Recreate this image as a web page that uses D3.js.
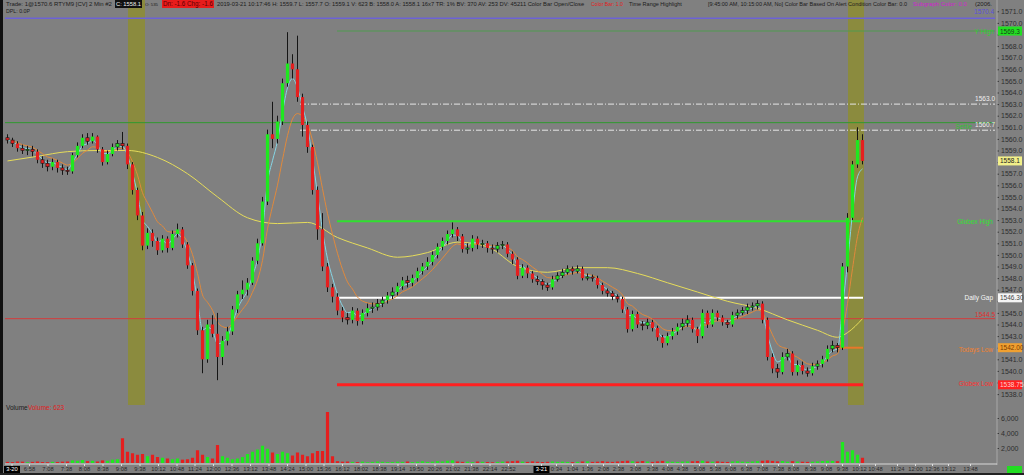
<!DOCTYPE html>
<html><head><meta charset="utf-8">
<script src="https://cdn.jsdelivr.net/npm/d3@7"></script>
<style>
html,body{margin:0;padding:0;background:#808080;overflow:hidden}
svg{display:block}
text{font-family:"Liberation Sans",Arial,sans-serif}
</style>
</head><body>
<svg id="c" width="1024" height="475"></svg>
<script>
// ---------------- DATA ----------------
const opens=[1560.1,1559.9,1559.6,1559.2,1559.0,1559.1,1558.9,1558.2,1557.9,1557.6,
1558.0,1557.5,1557.3,1557.2,1558.6,1559.4,1560.1,1559.8,1560.2,1559.1,
1558.0,1558.7,1559.3,1559.6,1559.4,1557.8,1555.6,1553.4,1550.8,1551.9,
1551.2,1550.4,1551.4,1550.6,1551.8,1552.2,1550.9,1549.1,1546.9,1543.5,
1541.0,1544.0,1543.2,1541.2,1542.6,1543.4,1545.3,1546.6,1547.0,1547.6,
1549.5,1551.0,1554.6,1560.4,1560.0,1561.5,1564.8,1566.5,1566.0,1563.6,
1561.2,1559.3,1555.6,1552.2,1549.0,1547.2,1546.4,1545.2,1544.6,1544.4,
1545.2,1544.3,1545.0,1545.4,1545.5,1545.8,1546.1,1546.5,1546.8,1547.3,
1547.8,1547.6,1548.0,1548.6,1549.0,1549.4,1550.0,1550.7,1551.2,1551.8,
1552.2,1551.6,1550.5,1550.6,1551.4,1550.9,1551.0,1550.6,1550.5,1550.8,
1550.9,1550.1,1549.6,1548.2,1548.9,1548.4,1547.9,1547.7,1547.4,1547.2,
1547.9,1548.2,1548.5,1548.8,1548.6,1548.8,1548.0,1548.1,1548.0,1547.4,
1546.9,1546.7,1546.4,1546.2,1545.3,1543.6,1544.9,1544.0,1543.9,1544.2,
1543.7,1542.9,1542.4,1543.0,1543.4,1543.8,1544.1,1544.4,1543.6,1543.0,
1545.0,1544.0,1545.0,1544.6,1544.2,1544.0,1544.8,1545.0,1545.2,1545.5,
1545.6,1545.8,1544.4,1541.2,1540.2,1539.9,1541.2,1541.5,1539.9,1540.5,
1540.0,1539.8,1540.4,1540.6,1541.0,1541.9,1542.2,1542.0,1549.0,1553.2,
1557.8,1559.9];
const closes=[1559.9,1559.6,1559.2,1559.0,1559.1,1558.9,1558.2,1557.9,1557.6,1558.0,
1557.5,1557.3,1557.2,1558.6,1559.4,1560.1,1559.8,1560.2,1559.1,1558.0,
1558.7,1559.3,1559.6,1559.4,1557.8,1555.6,1553.4,1550.8,1551.9,1551.2,
1550.4,1551.4,1550.6,1551.8,1552.2,1550.9,1549.1,1546.9,1543.5,1541.0,
1544.0,1543.2,1541.2,1542.6,1543.4,1545.3,1546.6,1547.0,1547.6,1549.5,
1551.0,1554.6,1560.4,1560.0,1561.5,1564.8,1566.5,1566.0,1563.6,1561.2,
1559.3,1555.6,1552.2,1549.0,1547.2,1546.4,1545.2,1544.6,1544.4,1545.2,
1544.3,1545.0,1545.4,1545.5,1545.8,1546.1,1546.5,1546.8,1547.3,1547.8,
1547.6,1548.0,1548.6,1549.0,1549.4,1550.0,1550.7,1551.2,1551.8,1552.2,
1551.6,1550.5,1550.6,1551.4,1550.9,1551.0,1550.6,1550.5,1550.8,1550.9,
1550.1,1549.6,1548.2,1548.9,1548.4,1547.9,1547.7,1547.4,1547.2,1547.9,
1548.2,1548.5,1548.8,1548.6,1548.8,1548.0,1548.1,1548.0,1547.4,1546.9,
1546.7,1546.4,1546.2,1545.3,1543.6,1544.9,1544.0,1543.9,1544.2,1543.7,
1542.9,1542.4,1543.0,1543.4,1543.8,1544.1,1544.4,1543.6,1543.0,1545.0,
1544.0,1545.0,1544.6,1544.2,1544.0,1544.8,1545.0,1545.2,1545.5,1545.6,
1545.8,1544.4,1541.2,1540.2,1539.9,1541.2,1541.5,1539.9,1540.5,1540.0,
1539.8,1540.4,1540.6,1541.0,1541.9,1542.2,1542.0,1549.0,1553.2,1557.8,
1559.9,1558.1];
const highs=[1560.4,1560.1,1559.8,1559.5,1559.4,1559.4,1559.1,1558.5,1558.2,1558.3,
1558.2,1557.8,1557.6,1558.8,1559.7,1560.4,1560.5,1560.5,1560.3,1559.3,
1559.0,1559.6,1559.9,1560.6,1559.6,1558.0,1555.8,1553.7,1552.3,1552.2,
1551.5,1551.7,1551.6,1552.1,1552.7,1552.4,1551.1,1549.3,1547.1,1543.8,
1544.4,1544.8,1545.0,1543.0,1543.8,1545.6,1546.9,1547.8,1548.0,1549.8,
1551.4,1555.0,1560.8,1563.2,1562.0,1565.2,1569.2,1567.3,1568.9,1563.9,
1561.5,1559.5,1555.9,1553.6,1549.3,1547.5,1546.7,1545.5,1545.0,1545.5,
1545.4,1545.3,1545.8,1545.9,1546.2,1546.4,1546.8,1547.2,1547.6,1548.1,
1548.2,1548.3,1548.9,1549.3,1549.8,1550.3,1551.0,1551.5,1552.1,1552.8,
1552.4,1551.8,1551.0,1551.7,1551.6,1551.3,1551.2,1550.9,1551.1,1551.2,
1551.1,1550.3,1549.8,1549.2,1549.1,1548.6,1548.2,1547.9,1547.6,1548.2,
1548.5,1548.8,1549.1,1549.0,1549.1,1549.0,1548.4,1548.3,1548.2,1547.6,
1547.1,1546.9,1546.6,1546.4,1545.5,1545.2,1545.1,1544.3,1544.5,1544.4,
1543.9,1543.1,1543.3,1543.7,1544.1,1544.5,1544.8,1544.6,1543.8,1545.3,
1545.2,1545.3,1545.2,1544.8,1544.4,1545.1,1545.3,1545.5,1545.8,1545.9,
1546.1,1546.0,1544.6,1541.5,1540.6,1541.6,1541.9,1541.7,1540.9,1540.8,
1540.3,1540.7,1540.9,1541.3,1542.2,1542.6,1542.4,1549.3,1553.6,1558.1,
1561.0,1560.4];
const lows=[1559.6,1559.3,1558.9,1558.7,1558.6,1558.5,1557.9,1557.5,1557.2,1557.3,
1557.1,1556.9,1556.9,1557.0,1558.4,1559.2,1559.5,1559.6,1558.8,1557.7,
1557.8,1558.5,1559.0,1559.1,1557.4,1555.2,1553.0,1550.4,1550.5,1550.7,
1550.0,1550.2,1550.2,1550.4,1551.5,1550.6,1548.8,1546.5,1543.1,1539.8,
1540.7,1542.9,1539.2,1540.5,1542.2,1543.1,1545.0,1546.2,1546.5,1547.4,
1549.2,1550.8,1554.3,1559.2,1559.6,1561.2,1564.5,1565.2,1563.2,1560.2,
1558.8,1555.2,1551.3,1548.6,1546.8,1545.9,1544.8,1544.2,1544.0,1544.1,
1543.9,1544.0,1544.7,1545.0,1545.2,1545.5,1545.8,1546.2,1546.5,1547.0,
1547.2,1547.3,1547.7,1548.3,1548.7,1549.1,1549.7,1550.4,1550.9,1551.5,
1551.2,1550.2,1550.1,1550.3,1550.5,1550.6,1550.2,1550.1,1550.2,1550.5,
1549.8,1549.2,1547.9,1548.0,1548.0,1547.6,1547.4,1547.0,1546.9,1547.0,
1547.7,1548.0,1548.3,1548.3,1548.4,1547.8,1547.8,1547.7,1547.1,1546.6,
1546.4,1546.1,1545.9,1545.0,1543.3,1543.4,1543.7,1543.5,1543.6,1543.4,
1542.6,1542.0,1542.2,1542.7,1543.1,1543.5,1543.8,1543.3,1542.4,1542.8,
1543.7,1543.8,1544.3,1543.9,1543.7,1543.8,1544.5,1544.8,1544.9,1545.2,
1545.3,1544.1,1540.9,1539.8,1539.4,1539.7,1540.9,1539.6,1539.6,1539.7,
1539.5,1539.6,1540.1,1540.3,1540.8,1541.6,1541.6,1541.8,1548.5,1553.0,
1557.5,1557.8];
const volumes=[150,120,200,180,100,150,200,130,110,160,
140,180,200,350,300,400,250,300,200,350,
300,450,500,3300,1500,1300,1100,1200,900,1100,
800,700,600,500,600,450,500,700,1700,1100,
800,600,2400,900,700,500,600,800,1200,1500,
1800,2300,1900,1400,1200,1500,1300,1000,1400,1100,
900,1300,1600,1600,6800,900,250,180,200,150,
120,180,100,150,200,160,120,140,180,150,
200,130,170,220,150,180,250,200,300,350,
200,150,180,120,200,160,140,100,150,180,
200,250,300,180,150,220,170,130,160,200,
150,180,140,120,160,200,220,150,180,240,
170,150,200,250,300,220,180,260,200,150,
220,280,200,170,150,190,210,230,260,300,
200,180,220,160,140,200,240,180,160,200,
250,300,350,280,220,260,180,240,200,170,
150,180,220,260,300,280,240,2800,1500,1700,
1100,700];
// slow moving average (yellow) at bar indices
const slowIdx=[0,6,12,18,24,30,36,42,48,54,60,66,72,78,84,90,96,102,108,114,120,126,132,138,144,150,156,162,166,168,171];
const slowVal=[1558.1,1558.5,1558.9,1559.0,1559.0,1558.4,1557.0,1555.0,1553.2,1552.7,1552.8,1551.5,1550.6,1549.8,1550.2,1551.1,1550.7,1549.0,1548.5,1548.9,1548.9,1548.4,1547.6,1546.8,1546.0,1545.4,1544.4,1543.5,1542.9,1543.3,1544.5];
// time axis (bar-index positions and labels)
const tickLabels=["3-20","6:58","7:08","7:38","8:08","8:38","9:08","9:38","10:12","10:48","11:24","12:00","12:36","13:12","13:48","14:24","15:00","15:36","16:12","18:02","18:38","19:14","19:50","20:26","21:02","21:38","22:14","22:52",
"3-21","0:34","1:04","1:36","2:08","2:38","3:08","3:38","4:08","4:38","5:08","5:38","6:08","6:38","7:08","7:38","8:08","8:38","9:08","9:38","10:12","10:48","11:24","12:00","12:36","13:12","13:48"];
const tickIdx=[1.3,4.8,8.5,12.2,15.8,19.5,23.2,26.9,30.6,34.3,37.9,41.6,45.3,49.0,52.7,56.4,60.1,63.7,67.4,71.1,74.8,78.5,82.2,85.9,89.5,93.2,96.9,100.6,
107.2,110.2,113.4,116.4,119.6,122.6,126.0,129.4,132.4,135.4,138.8,142.0,145.0,148.2,151.4,154.6,157.6,161.0,164.2,167.4,170.8,174.0,178.4,182.0,185.4,188.6,193.0];
const dateLabels=["3-20","3-21"];
const priceTicks=[1538,1539,1540,1541,1542,1543,1544,1545,1546,1547,1548,1549,1550,1551,1552,1553,1554,1555,1556,1557,1558,1559,1560,1561,1562,1563,1564,1565,1566,1567,1568,1569,1570,1571];
const volTicks=[2000,4000,6000];
// highlighted time ranges (9:45-10:15), bar-index units
const bandStart=[24.6,168.6];
const bandEnd=[28.0,171.8];
// horizontal levels
const levelKeys=["purple","yhigh","pivot","settle","prevclose","globexHigh","dailyGap","redLine","todaysLow","globexLow"];
const levelValues=[1570.4,1569.3,1563.0,1561.4,1560.75,1552.9,1546.3,1544.5,1542.0,1538.8];
const levelStart=[0,66.4,59,0,59,66.4,66.4,0,166,66.4];
const levelEnd=[198,198,198,198,198,171.6,171.6,198,171.6,171.6];
// value boxes on the price scale
const boxValues=[1569.3,1558.1,1546.3,1542.0,1538.8];
const boxTexts=["1569.3","1558.1","1546.30","1542.00","1538.75"];

// ---------------- STYLES ----------------
const levelStyle={
  purple:{c:"#6c62d6",w:1.5,d:null},
  yhigh:{c:"#4f9a4f",w:1,d:null},
  pivot:{c:"#e6e6e6",w:1,d:"6,2,1,2"},
  settle:{c:"#2f9a2f",w:1,d:null},
  prevclose:{c:"#e6e6e6",w:1,d:"6,2,1,2"},
  globexHigh:{c:"#2fe02f",w:2.2,d:null},
  dailyGap:{c:"#ffffff",w:2,d:null},
  redLine:{c:"#d63a3a",w:1,d:null},
  todaysLow:{c:"#e8772a",w:2,d:null},
  globexLow:{c:"#ff2020",w:3,d:null}
};
const boxStyle=[{f:"#22e022",t:"#1a3a1a"},{f:"#f2f08a",t:"#222"},{f:"#f5f5f5",t:"#444"},{f:"#f0a030",t:"#7a3a00"},{f:"#ff2020",t:"#ffd0d0"}];
const UP="#1fe81f", DN="#e51f1f";

// ---------------- CHART ----------------
const svg=d3.select("#c");
const x=d3.scaleLinear().domain([0,198]).range([5,995]);
const y=d3.scaleLinear().domain([1538,1571]).range([394.1,11.3]);
const yv=d3.scaleLinear().domain([0,6000]).range([463,418]);
const n=closes.length;

svg.append("rect").attr("width",1024).attr("height",475).attr("fill","#808080");

// time range highlight bands
svg.append("g").selectAll("rect").data(bandStart).join("rect")
  .attr("x",(d)=>x(d)).attr("width",(d,i)=>x(bandEnd[i])-x(d))
  .attr("y",0).attr("height",405).attr("fill","#8b8b3e");

// level lines
svg.append("g").selectAll("line").data(levelValues).join("line")
  .attr("x1",(d,i)=>x(levelStart[i])).attr("x2",(d,i)=>x(levelEnd[i]))
  .attr("y1",d=>y(d)).attr("y2",d=>y(d))
  .attr("stroke",(d,i)=>levelStyle[levelKeys[i]].c)
  .attr("stroke-width",(d,i)=>levelStyle[levelKeys[i]].w)
  .attr("stroke-dasharray",(d,i)=>levelStyle[levelKeys[i]].d);

// moving averages
function ema(arr,p){const a=2/(p+1);let e=arr[0];return arr.map(v=>(e=e+a*(v-e)));}
const fast=ema(closes,3), mid=ema(closes,7);
const lineGen=d3.line().x(d=>x(d[0]+0.5)).y(d=>y(d[1])).curve(d3.curveMonotoneX);
svg.append("path").attr("d",lineGen(slowIdx.map((d,i)=>[d,slowVal[i]])))
  .attr("fill","none").attr("stroke","#e6dc5a").attr("stroke-width",1);
svg.append("path").attr("d",lineGen(mid.map((v,i)=>[i,v])))
  .attr("fill","none").attr("stroke","#e0893c").attr("stroke-width",1);
svg.append("path").attr("d",lineGen(fast.map((v,i)=>[i,v])))
  .attr("fill","none").attr("stroke","#86d6e6").attr("stroke-width",1);

// candles
const idx=d3.range(n);
const cg=svg.append("g");
cg.selectAll("line").data(idx).join("line")
  .attr("x1",i=>x(i+0.5)).attr("x2",i=>x(i+0.5))
  .attr("y1",i=>y(highs[i])).attr("y2",i=>y(lows[i]))
  .attr("stroke","#151515").attr("stroke-width",1);
cg.selectAll("rect").data(idx).join("rect")
  .attr("x",i=>x(i+0.5)-1.6).attr("width",3.2)
  .attr("y",i=>y(Math.max(opens[i],closes[i])))
  .attr("height",i=>Math.max(1.2,Math.abs(y(opens[i])-y(closes[i]))))
  .attr("fill",i=>closes[i]>=opens[i]?UP:DN)
  .attr("stroke",i=>Math.abs(closes[i]-opens[i])<0.35?"#151515":"none")
  .attr("stroke-width",0.6);

// volume
svg.append("g").selectAll("rect").data(idx).join("rect")
  .attr("x",i=>x(i+0.5)-1.6).attr("width",3.2)
  .attr("y",i=>yv(volumes[i])).attr("height",i=>yv(0)-yv(volumes[i]))
  .attr("fill",i=>closes[i]>=opens[i]?UP:DN);

// right price axis
const ax=svg.append("g").attr("transform","translate(997,0)")
  .call(d3.axisRight(y).tickValues(priceTicks).tickFormat(d3.format(".1f")).tickSize(2).tickPadding(2));
const vax=svg.append("g").attr("transform","translate(997,0)")
  .call(d3.axisRight(yv).tickValues(volTicks).tickSize(2).tickPadding(2));
[ax,vax].forEach(a=>{
  a.select(".domain").remove();
  a.selectAll("line").attr("stroke","#3a3a3a");
  a.selectAll("text").attr("fill","#2e2e2e").style("font-size","7px").style("font-family","Liberation Sans,Arial");
});
// labels hidden under the value boxes
ax.selectAll(".tick").filter(d=>boxValues.some(b=>Math.abs(y(b)-y(d))<7)).select("text").remove();
svg.append("line").attr("x1",997).attr("x2",997).attr("y1",0).attr("y2",465).attr("stroke","#a8a8a8");

// time axis
svg.append("line").attr("x1",5).attr("x2",997).attr("y1",464).attr("y2",464).attr("stroke","#d8d8d8");
const tax=svg.append("g").attr("transform","translate(0,464)")
  .call(d3.axisBottom(x).tickValues(tickIdx).tickFormat((d,i)=>tickLabels[i]).tickSize(2).tickPadding(1));
tax.select(".domain").remove();
tax.selectAll("line").attr("stroke","#e0e0e0");
tax.selectAll("text").attr("fill","#2a2a2a").style("font-size","5.8px").style("font-family","Liberation Sans,Arial");
tax.selectAll(".tick").each(function(d,i){
  if(dateLabels.includes(tickLabels[i])){
    const t=d3.select(this);
    t.insert("rect","text").attr("x",-8).attr("y",2).attr("width",16).attr("height",8).attr("fill","#000");
    t.select("text").attr("fill","#fff");
  }
});

// frame
svg.append("rect").attr("x",0).attr("y",0).attr("width",3).attr("height",475).attr("fill","#111");
svg.append("rect").attr("x",0).attr("y",473).attr("width",1024).attr("height",2).attr("fill","#222");
svg.append("rect").attr("x",1007).attr("y",466).attr("width",15).attr("height",7).attr("fill","#22dd22");

// header: each segment is sized so its natural width fits the span it takes in the reference
function seg(tx,x0,x1,yy,col,bgcol){
  const g=svg.append("g");
  const t=g.append("text").attr("x",x0).attr("y",yy).text(tx).attr("fill",col).style("font-size","6.5px");
  const w=t.node().getComputedTextLength();
  const fs=Math.min(7,6.5*(x1-x0)/w);
  t.style("font-size",fs.toFixed(2)+"px");
  if(bgcol) g.insert("rect","text").attr("x",x0-1).attr("y",yy-6).attr("width",x1-x0+2).attr("height",8).attr("fill",bgcol);
}
seg("Trade: 1@1570.6   RTYM9 [CV]   2 Min    #2",6,112,6,"#1c1c1c");
seg("C: 1558.1",116,141,6,"#f0f0f0","#111");
seg("O: 535",145,158,6,"#1c1c1c");
seg("Dn: -1.6  Chg: -1.6",163,213,6,"#5a0000","#e81c1c");
seg("2019-03-21 10:17:46  H: 1559.7  L: 1557.7  O: 1559.1  V: 623  B: 1558.0  A: 1558.1  16x7  TR: 1%  BV: 370  AV: 253  DV: 45211  Color Bar Open/Close",217,585,6,"#1c1c1c");
seg("Color Bar: 1.0",591,623,6,"#e02020");
seg("Time Range Highlight",629,682,6,"#1c1c1c");
seg("[9:45:00 AM, 10:15:00 AM, No]   Color Bar Based On Alert Condition   Color Bar: 0.0",708,907,6,"#1c1c1c");
seg("Subgraph Color: 0.0",913,967,6,"#d020d0");
seg("(2006.",975,992,6,"#1c1c1c");
seg("DPL: 0.0P",6,30,13,"#1c1c1c");

// right side level labels
function lab(tx,xe,yy,col){
  svg.append("text").attr("x",xe).attr("y",yy).text(tx).attr("fill",col)
    .attr("text-anchor","end").style("font-size","6.5px");
}
lab("1570.4",994,14,"#5a50d8");
lab("Y High",994,34,"#30d030");
lab("1563.0",995,101,"#f0f0f0");
lab("Settle",972,129,"#30c030");
lab("1560.7",995,127,"#f0f0f0");
lab("Globex High",993,224,"#30e030");
lab("Daily Gap",993,300,"#f5f5f5");
lab("1544.5",995,317,"#e03030");
lab("Todays Low",993,352,"#f08030");
lab("Globex Low",993,386,"#ff3030");
// value boxes on the scale
const bx=svg.append("g").selectAll("g").data(boxValues).join("g").attr("transform",d=>`translate(998,${y(d)})`);
bx.append("rect").attr("x",0).attr("y",-4.5).attr("width",24).attr("height",9).attr("fill",(d,i)=>boxStyle[i].f);
bx.append("text").attr("x",2).attr("y",2.5).text((d,i)=>boxTexts[i]).attr("fill",(d,i)=>boxStyle[i].t).style("font-size","6.5px");

// volume caption
svg.append("text").attr("x",6).attr("y",410).text("Volume").attr("fill","#1c1c1c").style("font-size","6.5px");
svg.append("text").attr("x",28).attr("y",410).text("Volume: 623").attr("fill","#e02020").style("font-size","6.5px");
</script>
</body></html>
